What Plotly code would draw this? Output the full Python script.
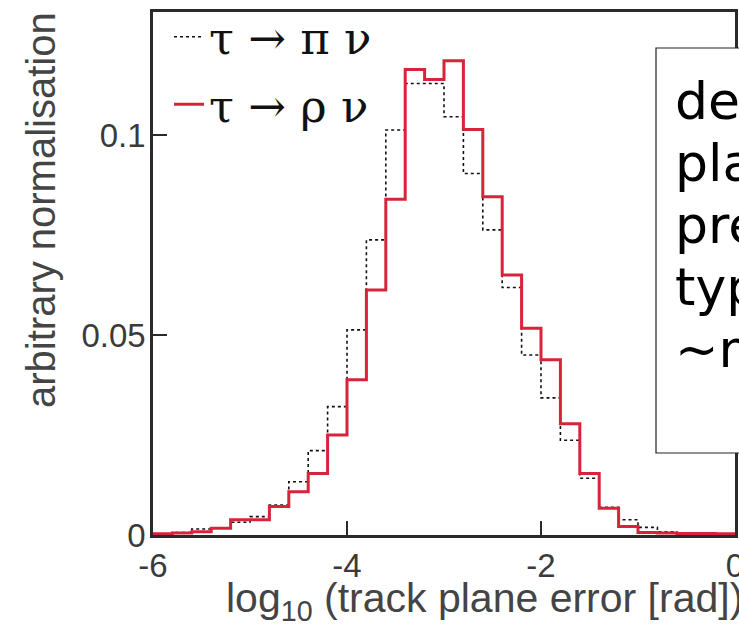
import numpy as np
import plotly.graph_objects as go

# Histogram binning of log10(track plane error [rad])
x_min, x_max, bin_width = -6.0, 0.0, 0.2
bin_edges = np.round(np.arange(x_min, x_max + bin_width / 2, bin_width), 3)

# Normalised bin contents (30 bins from -6 to 0)
tau_pi_nu = [0.0003, 0.0006, 0.0015, 0.0018, 0.0032, 0.0046, 0.0075, 0.0133, 0.0211, 0.0321,
             0.0513, 0.0738, 0.1013, 0.1129, 0.1129, 0.1046, 0.0904, 0.0763, 0.0619, 0.0450,
             0.0343, 0.0237, 0.0142, 0.0069, 0.0038, 0.0019, 0.0008, 0.0005, 0.0004, 0.0003]
tau_rho_nu = [0.0003, 0.0005, 0.0008, 0.0017, 0.0038, 0.0038, 0.0071, 0.0108, 0.0154, 0.0250,
              0.0388, 0.0613, 0.0840, 0.1164, 0.1139, 0.1186, 0.1014, 0.0846, 0.0650, 0.0517,
              0.0438, 0.0278, 0.0154, 0.0067, 0.0021, 0.0006, 0.0005, 0.0004, 0.0004, 0.0003]

series_names = ["τ → π ν", "τ → ρ ν"]
x_ticks = [-6, -4, -2, 0]
x_tick_labels = ["-6", "-4", "-2", "0"]
y_ticks = [0, 0.05, 0.1]
y_tick_labels = ["0", "0.05", "0.1"]

note_lines = ["decay", "plane", "precision", "typically", "~mrad"]

W, H = 739, 636
M_L, M_R, M_T, M_B = 153, 4, 12, 101


def step_y(vals):
    return list(vals) + [vals[-1]]


fig = go.Figure()
fig.add_trace(go.Scatter(
    x=bin_edges, y=step_y(tau_pi_nu), mode="lines", line_shape="hv",
    line=dict(color="#111111", width=1.6, dash="dot"),
    name=series_names[0], legendgroup="pi",
))
fig.add_trace(go.Scatter(
    x=bin_edges, y=step_y(tau_rho_nu), mode="lines", line_shape="hv",
    line=dict(color="#d8243a", width=3),
    name=series_names[1], legendgroup="rho",
))

axis_common = dict(
    showline=True, linecolor="#2a2a2a", linewidth=2.5, mirror=True,
    ticks="inside", ticklen=14, tickwidth=2, tickcolor="#2a2a2a",
    showgrid=False, zeroline=False, ticklabeloverflow="allow", automargin=False,
    tickfont=dict(family="Liberation Sans, Arial, sans-serif", size=33, color="#3a3a3a"),
)

fig.update_xaxes(range=[x_min, x_max], tickvals=x_ticks, ticktext=x_tick_labels, **axis_common)
fig.update_yaxes(range=[0, 0.1308], tickvals=y_ticks, ticktext=y_tick_labels, ticklabelstandoff=-2,
                 **axis_common)

plot_w = W - M_L - M_R
plot_h = H - M_T - M_B


def px_x(p):
    return (p - M_L) / plot_w


def px_y(p):
    return (H - M_B - p) / plot_h


# Note box drawn over the right part of the plot
fig.add_shape(type="rect", xref="paper", yref="paper",
              x0=px_x(656), x1=px_x(900), y0=px_y(453), y1=px_y(48),
              line=dict(color="#222222", width=1.2), fillcolor="white", layer="above")
note_first_line_px, note_line_step_px = 101, 62
for i, line in enumerate(note_lines):
    fig.add_annotation(
        xref="paper", yref="paper",
        x=px_x(673), y=px_y(note_first_line_px + i * note_line_step_px),
        xanchor="left", yanchor="middle", text=line, align="left", showarrow=False,
        font=dict(family="DejaVu Sans, sans-serif", size=52, color="black"),
    )

# Axis titles
fig.add_annotation(
    xref="paper", yref="paper", x=px_x(41), y=px_y(210), xanchor="center", yanchor="middle",
    text="arbitrary normalisation", textangle=-90, showarrow=False,
    font=dict(family="Liberation Sans, Arial, sans-serif", size=40, color="#444444"),
)
fig.add_annotation(
    xref="paper", yref="paper", x=px_x(224), y=px_y(601), xanchor="left", yanchor="middle",
    text="log<sub>10</sub> (track plane error [rad])", showarrow=False,
    font=dict(family="Liberation Sans, Arial, sans-serif", size=41, color="#444444"),
)

fig.update_layout(
    width=W, height=H,
    margin=dict(l=M_L, r=M_R, t=M_T, b=M_B, autoexpand=False),
    paper_bgcolor="white", plot_bgcolor="white",
    showlegend=True,
    legend=dict(
        x=px_x(169), y=px_y(1), xanchor="left", yanchor="top",
        traceorder="grouped", tracegroupgap=6,
        font=dict(family="DejaVu Serif, Liberation Serif, serif", size=45, color="#111111"),
        bgcolor="rgba(0,0,0,0)", borderwidth=0,
    ),
)

fig.write_html("out.html")
